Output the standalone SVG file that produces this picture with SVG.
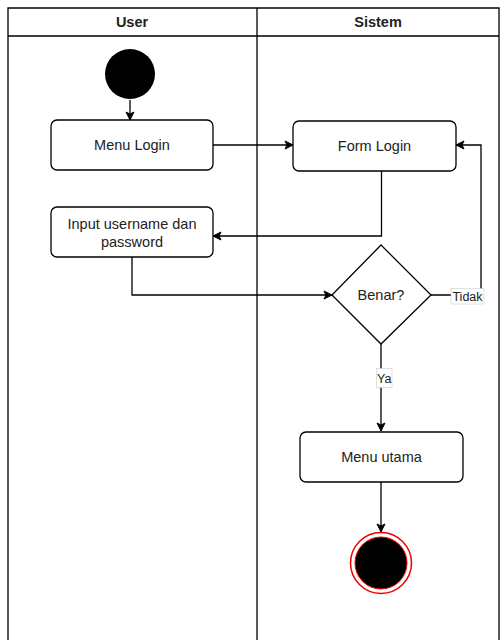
<svg xmlns="http://www.w3.org/2000/svg" width="500" height="640" viewBox="0 0 500 640">
<defs>
<marker id="arr" markerWidth="10" markerHeight="10" refX="9" refY="5" orient="auto" markerUnits="userSpaceOnUse">
<path d="M1,1 L9,5 L1,9 L3,5 Z" fill="#000" stroke="#000" stroke-width="1"/>
</marker>
</defs>
<style>
.lane{fill:none;stroke:#000;stroke-width:1.3}
.box{fill:#fff;stroke:#000;stroke-width:1.3}
.t{font-family:"Liberation Sans",Arial,sans-serif;font-size:14.5px;fill:#222;text-anchor:middle}
.h{font-family:"Liberation Sans",Arial,sans-serif;font-size:14.5px;font-weight:bold;fill:#222;text-anchor:middle}
.c{fill:none;stroke:#000;stroke-width:1.3}
.lbl{font-family:"Liberation Sans",Arial,sans-serif;font-size:12.5px;fill:#222;text-anchor:middle}
</style>
<rect width="500" height="640" fill="#fff"/>
<g id="lanes">
<path class="lane" d="M8,640 V8 H499 V640 M8,36 H499 M257,8 V640"/>
<text class="h" x="132" y="27">User</text>
<text class="h" x="378" y="27">Sistem</text>
</g>
<g id="connectors">
<path class="c" d="M130,100 V120" marker-end="url(#arr)"/>
<path class="c" d="M213,145 H293" marker-end="url(#arr)"/>
<path class="c" d="M381.5,171 V236 H213" marker-end="url(#arr)"/>
<path class="c" d="M132,257 V295 H332" marker-end="url(#arr)"/>
<path class="c" d="M431,295 H481 V145 H456" marker-end="url(#arr)"/>
<path class="c" d="M381,344 V431" marker-end="url(#arr)"/>
<path class="c" d="M381,482 V532" marker-end="url(#arr)"/>
<rect x="451" y="288.5" width="33" height="15.5" fill="#fff" stroke="#ccc" stroke-width="0.6"/>
<text class="lbl" x="467.5" y="300.5">Tidak</text>
<rect x="376.5" y="368.5" width="15.5" height="19" fill="#fff" stroke="#ccc" stroke-width="0.6"/>
<text class="lbl" x="384.3" y="382.5">Ya</text>
</g>
<g id="start"><circle cx="130" cy="74" r="25" fill="#000"/></g>
<g id="menu-login">
<rect class="box" x="51" y="120" width="162" height="50" rx="6"/>
<text class="t" x="132" y="150">Menu Login</text>
</g>
<g id="input">
<rect class="box" x="51" y="207" width="162" height="50" rx="6"/>
<text class="t" x="132" y="229">Input username dan</text>
<text class="t" x="132" y="247">password</text>
</g>
<g id="form-login">
<rect class="box" x="293" y="121" width="163" height="50" rx="6"/>
<text class="t" x="374.5" y="151">Form Login</text>
</g>
<g id="benar">
<polygon class="box" points="381,245 431,295 381,344 332,295"/>
<text class="t" x="381" y="300">Benar?</text>
</g>
<g id="menu-utama">
<rect class="box" x="300" y="432" width="163" height="50" rx="6"/>
<text class="t" x="381.5" y="462">Menu utama</text>
</g>
<g id="end">
<circle cx="381" cy="563" r="30.5" fill="#fff" stroke="#e00" stroke-width="1.5"/>
<circle cx="381" cy="563" r="26" fill="#000" stroke="#e00" stroke-width="1"/>
</g>
</svg>
